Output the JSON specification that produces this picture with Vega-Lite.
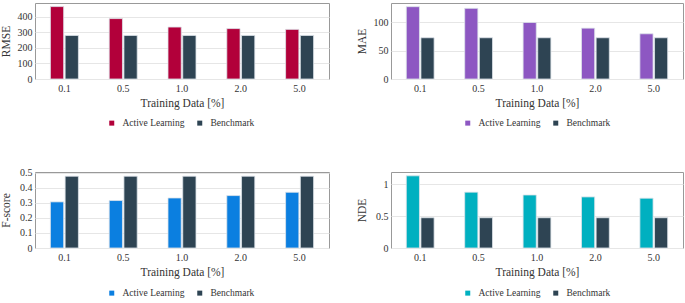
{
  "$schema": "https://vega.github.io/schema/vega-lite/v6.json",
  "padding": {"left": 0, "top": 2, "right": 2, "bottom": 0},
  "datasets": {
    "d": [
      {"metric": "RMSE", "train": "0.1", "series": "Active Learning", "value": 464},
      {"metric": "RMSE", "train": "0.5", "series": "Active Learning", "value": 387},
      {"metric": "RMSE", "train": "1.0", "series": "Active Learning", "value": 333},
      {"metric": "RMSE", "train": "2.0", "series": "Active Learning", "value": 323},
      {"metric": "RMSE", "train": "5.0", "series": "Active Learning", "value": 318},
      {"metric": "RMSE", "train": "0.1", "series": "Benchmark", "value": 279},
      {"metric": "RMSE", "train": "0.5", "series": "Benchmark", "value": 279},
      {"metric": "RMSE", "train": "1.0", "series": "Benchmark", "value": 279},
      {"metric": "RMSE", "train": "2.0", "series": "Benchmark", "value": 279},
      {"metric": "RMSE", "train": "5.0", "series": "Benchmark", "value": 279},
      {"metric": "MAE", "train": "0.1", "series": "Active Learning", "value": 128},
      {"metric": "MAE", "train": "0.5", "series": "Active Learning", "value": 125},
      {"metric": "MAE", "train": "1.0", "series": "Active Learning", "value": 100},
      {"metric": "MAE", "train": "2.0", "series": "Active Learning", "value": 90},
      {"metric": "MAE", "train": "5.0", "series": "Active Learning", "value": 80},
      {"metric": "MAE", "train": "0.1", "series": "Benchmark", "value": 73},
      {"metric": "MAE", "train": "0.5", "series": "Benchmark", "value": 73},
      {"metric": "MAE", "train": "1.0", "series": "Benchmark", "value": 73},
      {"metric": "MAE", "train": "2.0", "series": "Benchmark", "value": 73},
      {"metric": "MAE", "train": "5.0", "series": "Benchmark", "value": 73},
      {"metric": "F-score", "train": "0.1", "series": "Active Learning", "value": 0.307},
      {"metric": "F-score", "train": "0.5", "series": "Active Learning", "value": 0.316},
      {"metric": "F-score", "train": "1.0", "series": "Active Learning", "value": 0.333},
      {"metric": "F-score", "train": "2.0", "series": "Active Learning", "value": 0.349},
      {"metric": "F-score", "train": "5.0", "series": "Active Learning", "value": 0.371},
      {"metric": "F-score", "train": "0.1", "series": "Benchmark", "value": 0.478},
      {"metric": "F-score", "train": "0.5", "series": "Benchmark", "value": 0.478},
      {"metric": "F-score", "train": "1.0", "series": "Benchmark", "value": 0.478},
      {"metric": "F-score", "train": "2.0", "series": "Benchmark", "value": 0.478},
      {"metric": "F-score", "train": "5.0", "series": "Benchmark", "value": 0.478},
      {"metric": "NDE", "train": "0.1", "series": "Active Learning", "value": 1.13},
      {"metric": "NDE", "train": "0.5", "series": "Active Learning", "value": 0.874},
      {"metric": "NDE", "train": "1.0", "series": "Active Learning", "value": 0.83},
      {"metric": "NDE", "train": "2.0", "series": "Active Learning", "value": 0.80},
      {"metric": "NDE", "train": "5.0", "series": "Active Learning", "value": 0.78},
      {"metric": "NDE", "train": "0.1", "series": "Benchmark", "value": 0.474},
      {"metric": "NDE", "train": "0.5", "series": "Benchmark", "value": 0.474},
      {"metric": "NDE", "train": "1.0", "series": "Benchmark", "value": 0.474},
      {"metric": "NDE", "train": "2.0", "series": "Benchmark", "value": 0.474},
      {"metric": "NDE", "train": "5.0", "series": "Benchmark", "value": 0.474}
    ]
  },
  "columns": 2,
  "spacing": {"row": 38, "column": 26},
  "resolve": {"scale": {"color": "independent", "x": "independent", "y": "independent", "xOffset": "independent"}, "legend": {"color": "independent"}},
  "concat": [
    {
      "data": {"name": "d"},
      "transform": [{"filter": "datum.metric === 'RMSE'"}],
      "width": 294, "height": 76,
      "mark": {"type": "bar", "stroke": "#dde3ea", "strokeWidth": 0.8},
      "encoding": {
        "x": {"field": "train", "type": "nominal", "sort": ["0.1", "0.5", "1.0", "2.0", "5.0"], "scale": {"paddingInner": 0.524, "paddingOuter": 0.262}, "axis": {"title": "Training Data [%]", "labelAngle": 0}},
        "xOffset": {"field": "series", "type": "nominal", "scale": {"paddingInner": 0.1, "paddingOuter": 0}},
        "y": {"field": "value", "type": "quantitative", "scale": {"domain": [0, 487], "nice": false}, "axis": {"title": "RMSE", "values": [0, 100, 200, 300, 400], "format": "~r"}},
        "color": {"field": "series", "type": "nominal", "scale": {"domain": ["Active Learning", "Benchmark"], "range": ["#b2003a", "#2e4453"]}, "legend": {"orient": "none", "legendX": 72, "legendY": 115, "direction": "horizontal", "title": null}}
      }
    },
    {
      "data": {"name": "d"},
      "transform": [{"filter": "datum.metric === 'MAE'"}],
      "width": 292, "height": 76,
      "mark": {"type": "bar", "stroke": "#dde3ea", "strokeWidth": 0.8},
      "encoding": {
        "x": {"field": "train", "type": "nominal", "sort": ["0.1", "0.5", "1.0", "2.0", "5.0"], "scale": {"paddingInner": 0.524, "paddingOuter": 0.262}, "axis": {"title": "Training Data [%]", "labelAngle": 0}},
        "xOffset": {"field": "series", "type": "nominal", "scale": {"paddingInner": 0.1, "paddingOuter": 0}},
        "y": {"field": "value", "type": "quantitative", "scale": {"domain": [0, 134.5], "nice": false}, "axis": {"title": "MAE", "values": [0, 50, 100], "format": "~r"}},
        "color": {"field": "series", "type": "nominal", "scale": {"domain": ["Active Learning", "Benchmark"], "range": ["#8d57c2", "#2e4453"]}, "legend": {"orient": "none", "legendX": 72, "legendY": 115, "direction": "horizontal", "title": null}}
      }
    },
    {
      "data": {"name": "d"},
      "transform": [{"filter": "datum.metric === 'F-score'"}],
      "width": 294, "height": 76,
      "mark": {"type": "bar", "stroke": "#dde3ea", "strokeWidth": 0.8},
      "encoding": {
        "x": {"field": "train", "type": "nominal", "sort": ["0.1", "0.5", "1.0", "2.0", "5.0"], "scale": {"paddingInner": 0.524, "paddingOuter": 0.262}, "axis": {"title": "Training Data [%]", "labelAngle": 0}},
        "xOffset": {"field": "series", "type": "nominal", "scale": {"paddingInner": 0.1, "paddingOuter": 0}},
        "y": {"field": "value", "type": "quantitative", "scale": {"domain": [0, 0.506], "nice": false}, "axis": {"title": "F-score", "values": [0, 0.1, 0.2, 0.3, 0.4, 0.5], "format": "~r"}},
        "color": {"field": "series", "type": "nominal", "scale": {"domain": ["Active Learning", "Benchmark"], "range": ["#0b7fe0", "#2e4453"]}, "legend": {"orient": "none", "legendX": 72, "legendY": 116, "direction": "horizontal", "title": null}}
      }
    },
    {
      "data": {"name": "d"},
      "transform": [{"filter": "datum.metric === 'NDE'"}],
      "width": 292, "height": 76,
      "mark": {"type": "bar", "stroke": "#dde3ea", "strokeWidth": 0.8},
      "encoding": {
        "x": {"field": "train", "type": "nominal", "sort": ["0.1", "0.5", "1.0", "2.0", "5.0"], "scale": {"paddingInner": 0.524, "paddingOuter": 0.262}, "axis": {"title": "Training Data [%]", "labelAngle": 0}},
        "xOffset": {"field": "series", "type": "nominal", "scale": {"paddingInner": 0.1, "paddingOuter": 0}},
        "y": {"field": "value", "type": "quantitative", "scale": {"domain": [0, 1.19], "nice": false}, "axis": {"title": "NDE", "values": [0, 0.5, 1], "format": "~r"}},
        "color": {"field": "series", "type": "nominal", "scale": {"domain": ["Active Learning", "Benchmark"], "range": ["#00b0c0", "#2e4453"]}, "legend": {"orient": "none", "legendX": 72, "legendY": 116, "direction": "horizontal", "title": null}}
      }
    }
  ],
  "config": {
    "font": "Liberation Serif, Times New Roman, DejaVu Serif, serif",
    "view": {"stroke": "#999999", "strokeWidth": 1},
    "axis": {
      "labelFont": "Liberation Serif, Times New Roman, DejaVu Serif, serif", "titleFont": "Liberation Serif, Times New Roman, DejaVu Serif, serif",
      "labelFontSize": 10, "titleFontSize": 11.5, "titleFontWeight": "normal",
      "labelColor": "#333333", "titleColor": "#333333",
      "domain": false, "ticks": false
    },
    "axisX": {"grid": false, "labelPadding": 4, "titlePadding": 4},
    "axisY": {"grid": true, "gridColor": "#e6e6e6", "labelPadding": 3, "minExtent": 18, "maxExtent": 18, "titlePadding": 5.5},
    "legend": {
      "labelFont": "Liberation Serif, Times New Roman, DejaVu Serif, serif", "labelFontSize": 9.5, "labelColor": "#333333",
      "symbolType": "square", "symbolSize": 25, "symbolStrokeWidth": 0,
      "columnPadding": 10, "labelOffset": 6
    }
  }
}
